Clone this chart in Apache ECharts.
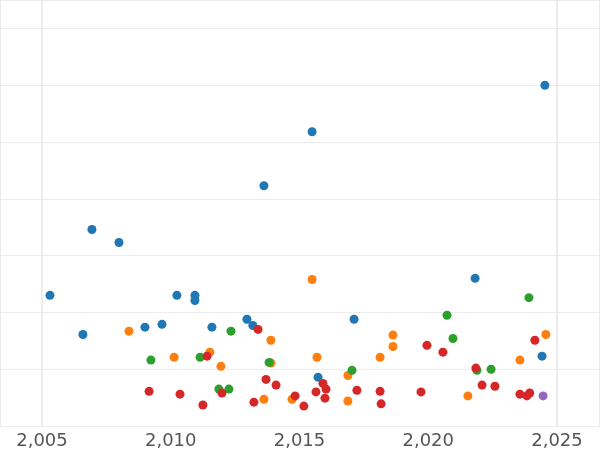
<!DOCTYPE html>
<html>
<head>
<meta charset="utf-8">
<script src="https://cdn.jsdelivr.net/npm/echarts@6/dist/echarts.min.js"></script>
<style>html,body{margin:0;padding:0;background:#fff}#chart{width:600px;height:450px}</style>
</head>
<body>
<div id="chart"></div>
<script>
// [year, value]
const blueData = [[2005.31,2.30],[2006.59,1.61],[2006.94,3.46],[2007.99,3.23],[2009.00,1.74],[2009.66,1.79],[2010.24,2.30],[2010.94,2.30],[2010.94,2.21],[2011.60,1.74],[2012.96,1.88],[2013.19,1.77],[2013.62,4.23],[2015.49,5.18],[2015.72,0.86],[2017.12,1.88],[2021.82,2.60],[2024.42,1.23],[2024.53,6.00]];
const orangeData = [[2008.38,1.67],[2010.13,1.21],[2011.52,1.30],[2011.95,1.05],[2013.62,0.47],[2013.89,1.11],[2013.89,1.51],[2014.71,0.47],[2015.49,2.58],[2015.68,1.21],[2016.88,0.89],[2016.88,0.44],[2018.13,1.21],[2018.63,1.40],[2018.63,1.60],[2021.54,0.53],[2023.56,1.16],[2024.57,1.61]];
const greenData = [[2009.23,1.16],[2011.14,1.21],[2011.87,0.65],[2012.26,0.65],[2012.34,1.67],[2013.82,1.12],[2017.04,0.98],[2020.73,1.95],[2020.96,1.54],[2021.89,0.98],[2022.44,1.00],[2023.91,2.26]];
const redData = [[2009.16,0.61],[2010.36,0.56],[2011.25,0.37],[2011.41,1.23],[2011.99,0.58],[2013.23,0.42],[2013.39,1.70],[2013.70,0.82],[2014.09,0.72],[2014.83,0.53],[2015.17,0.35],[2015.64,0.60],[2015.91,0.75],[2016.03,0.65],[2015.99,0.49],[2017.23,0.63],[2018.13,0.61],[2018.17,0.39],[2019.72,0.60],[2019.95,1.42],[2020.57,1.30],[2021.85,1.02],[2022.09,0.72],[2022.59,0.70],[2023.56,0.56],[2023.83,0.53],[2023.94,0.58],[2024.14,1.51]];
const purpleData = [[2024.46,0.53]];

const chart = echarts.init(document.getElementById('chart'));
const mk = (data, color) => ({
  type: 'scatter', data: data, symbolSize: 9,
  itemStyle: { color: color, opacity: 1 }
});
chart.setOption({
  animation: false,
  grid: { left: 0, right: 0, top: 0, bottom: 23 },
  xAxis: {
    type: 'value', min: 2003.37, max: 2026.67,
    axisLine: { show: false }, axisTick: { show: false },
    axisLabel: { fontSize: 18, color: '#555', fontFamily: 'DejaVu Sans', margin: 6,
      showMinLabel: false, showMaxLabel: false },
    splitLine: { show: true, lineStyle: { width: 1.5,
      color: ['#e6e6e6', '#e6e6e6', 'rgba(0,0,0,0)', 'rgba(0,0,0,0)', 'rgba(0,0,0,0)'] } }
  },
  yAxis: {
    type: 'value', min: 0, max: 7.5, interval: 1,
    axisLine: { show: false }, axisTick: { show: false }, axisLabel: { show: false },
    splitLine: { lineStyle: { color: '#ececec' } }
  },
  series: [
    mk(blueData, '#1f77b4'),
    mk(orangeData, '#ff7f0e'),
    mk(greenData, '#2ca02c'),
    mk(redData, '#d62728'),
    mk(purpleData, '#9467bd')
  ]
});
</script>
</body>
</html>
